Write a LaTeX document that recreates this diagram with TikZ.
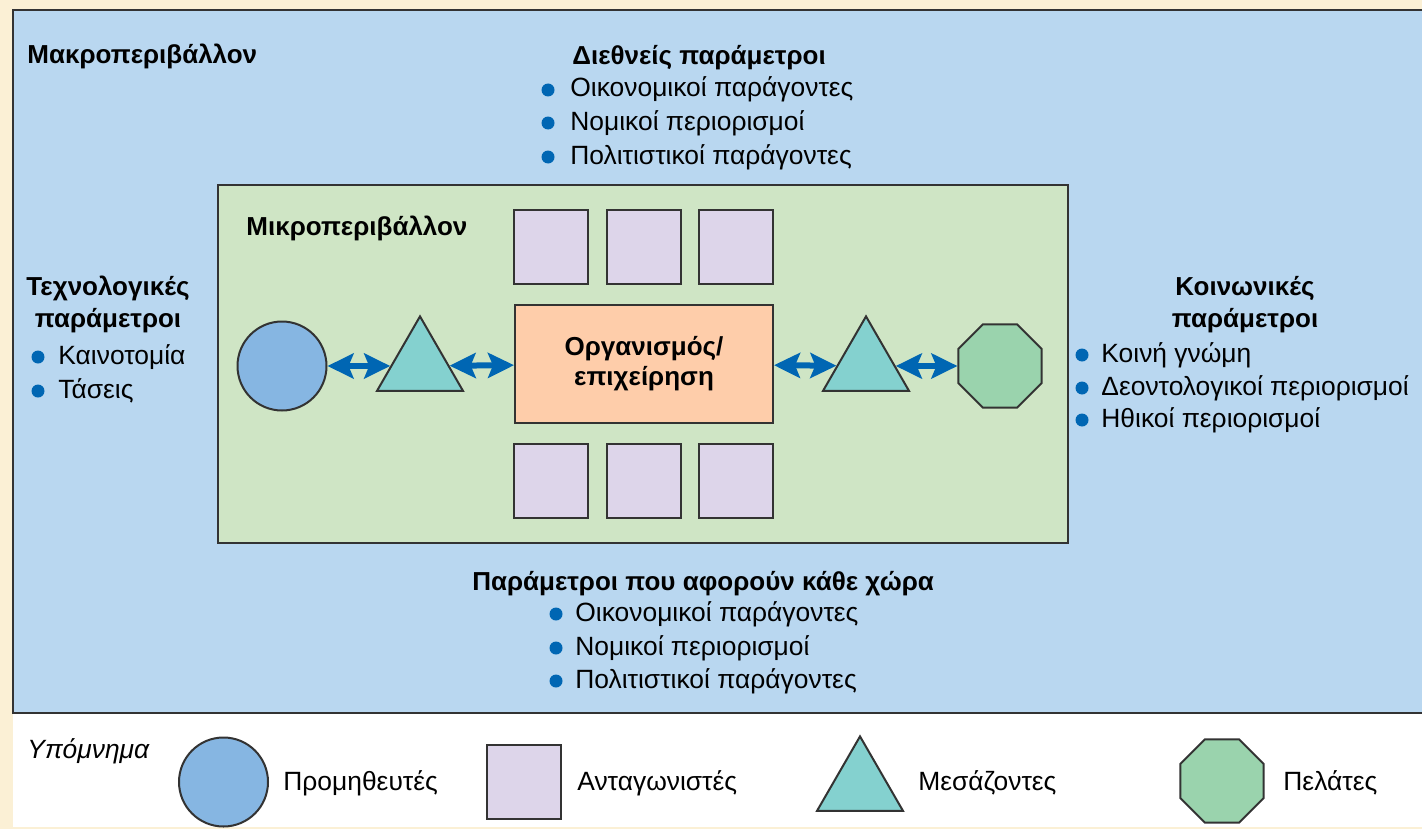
\documentclass[tikz,border=0pt]{standalone}
\usepackage{fontspec}
\setmainfont{Liberation Sans}
\usetikzlibrary{shapes.geometric,arrows.meta}

\definecolor{cream}{HTML}{FBF0D5}
\definecolor{macro}{HTML}{B9D7F0}
\definecolor{micro}{HTML}{CFE5C5}
\definecolor{orgfill}{HTML}{FECDAA}
\definecolor{lavender}{HTML}{DDD5EA}
\definecolor{suppblue}{HTML}{86B6E2}
\definecolor{teal}{HTML}{84D1CF}
\definecolor{custgreen}{HTML}{9AD3AD}
\definecolor{linkblue}{HTML}{0066B3}
\definecolor{edge}{HTML}{333333}

\begin{document}
\begin{tikzpicture}[x=0.5pt,y=-0.5pt,
    font=\fontsize{13.2}{15}\selectfont,
    shp/.style={draw=edge,line width=1pt,inner sep=0pt},
    rival/.style={shp,fill=lavender,minimum size=37pt},
    supplier/.style={shp,circle,fill=suppblue,minimum size=44.5pt},
    broker/.style={shp,regular polygon,regular polygon sides=3,fill=teal,minimum size=49.6pt},
    client/.style={shp,regular polygon,regular polygon sides=8,fill=custgreen,minimum size=45pt},
    link/.style={line width=3pt,draw=linkblue,
        {Stealth[length=13pt,width=12.5pt,inset=2.5pt]}-{Stealth[length=13pt,width=12.5pt,inset=2.5pt]}},
    head/.style={font=\fontsize{13}{15}\selectfont\bfseries,inner sep=0pt},
    item/.style={anchor=base west,inner sep=0pt},
    dot/.style={fill=linkblue}]

    \useasboundingbox (0,0) rectangle (1422,829);
    \clip (0,0) rectangle (1422,829);

    % background, legend strip and macro-environment
    \fill[cream] (0,0) rectangle (1422,829);
    \fill[white] (13,714) rectangle (1430,827);
    \draw[fill=macro,draw=edge,line width=1pt] (13,10) rectangle (1432,713);
    \draw[fill=micro,draw=edge,line width=0.8pt] (218,185) rectangle (1068,543);

    \node[head,anchor=base west] (macrot) at (27,64) {Μακροπεριβάλλον};
    \node[head,anchor=base west] (microt) at (246,235) {Μικροπεριβάλλον};

    % international parameters
    \node[head,anchor=base] (intl) at (699,65) {Διεθνείς παράμετροι};
    \node[item] (intl1) at (570,97) {Οικονομικοί παράγοντες};
    \node[item] (intl2) at (570,130) {Νομικοί περιορισμοί};
    \node[item] (intl3) at (570,164) {Πολιτιστικοί παράγοντες};
    \foreach \y in {90,123,157}
        \fill[dot] (548,\y) circle (3.25pt);

    % technological parameters
    \node[head,anchor=base] (tech) at (108,295) {Τεχνολογικές};
    \node[head,anchor=base] (tech2) at (108,327) {παράμετροι};
    \node[item] (tech3) at (58,364) {Καινοτομία};
    \node[item] (tech4) at (58,398) {Τάσεις};
    \foreach \y in {357,391}
        \fill[dot] (38,\y) circle (3.25pt);

    % social parameters
    \node[head,anchor=base] (soc) at (1245,295) {Κοινωνικές};
    \node[head,anchor=base] (soc2) at (1245,327) {παράμετροι};
    \node[item] (soc3) at (1101,362) {Κοινή γνώμη};
    \node[item] (soc4) at (1101,395) {Δεοντολογικοί περιορισμοί};
    \node[item] (soc5) at (1101,427) {Ηθικοί περιορισμοί};
    \foreach \y in {355,388,420}
        \fill[dot] (1082,\y) circle (3.25pt);

    % country parameters
    \node[head,anchor=base] (ctry) at (703,590) {Παράμετροι που αφορούν κάθε χώρα};
    \node[item] (ctry1) at (575,621) {Οικονομικοί παράγοντες};
    \node[item] (ctry2) at (575,655) {Νομικοί περιορισμοί};
    \node[item] (ctry3) at (575,688) {Πολιτιστικοί παράγοντες};
    \foreach \y in {614,648,681}
        \fill[dot] (556,\y) circle (3.25pt);

    % micro-environment
    \node[shp,fill=orgfill,minimum width=129pt,minimum height=59pt,
        font=\fontsize{13}{15}\selectfont\bfseries,align=center] (org) at (644,364)
        {Οργανισμός/\\επιχείρηση};
    \node[rival] (r1) at (551,247) {};
    \node[rival] (r2) at (643.5,247) {};
    \node[rival] (r3) at (736,247) {};
    \node[rival] (r4) at (551,481) {};
    \node[rival] (r5) at (643.5,481) {};
    \node[rival] (r6) at (736,481) {};

    \node[supplier] (sup) at (282,366) {};
    \node[broker] (brkl) at (420,366) {};
    \node[broker] (brkr) at (866,366) {};
    \node[client] (cust) at (1000,366) {};

    \draw[link] (sup) -- (brkl);
    \draw[link] (brkl) -- (org);
    \draw[link] (org) -- (brkr);
    \draw[link] (brkr) -- (cust);

    % legend
    \node[anchor=base west,inner sep=0pt,font=\fontsize{13.2}{15}\selectfont\itshape] (leg) at (27,758) {Υπόμνημα};
    \node[supplier] (lsup) at (223.5,782) {};
    \node[item] at (283,790) {Προμηθευτές};
    \node[rival] (lriv) at (523.5,781.5) {};
    \node[item] at (577,790) {Ανταγωνιστές};
    \node[broker] (lbrk) at (860,786) {};
    \node[item] at (918,790) {Μεσάζοντες};
    \node[client] (lcust) at (1222,781) {};
    \node[item] at (1283,790) {Πελάτες};
\end{tikzpicture}
\end{document}
